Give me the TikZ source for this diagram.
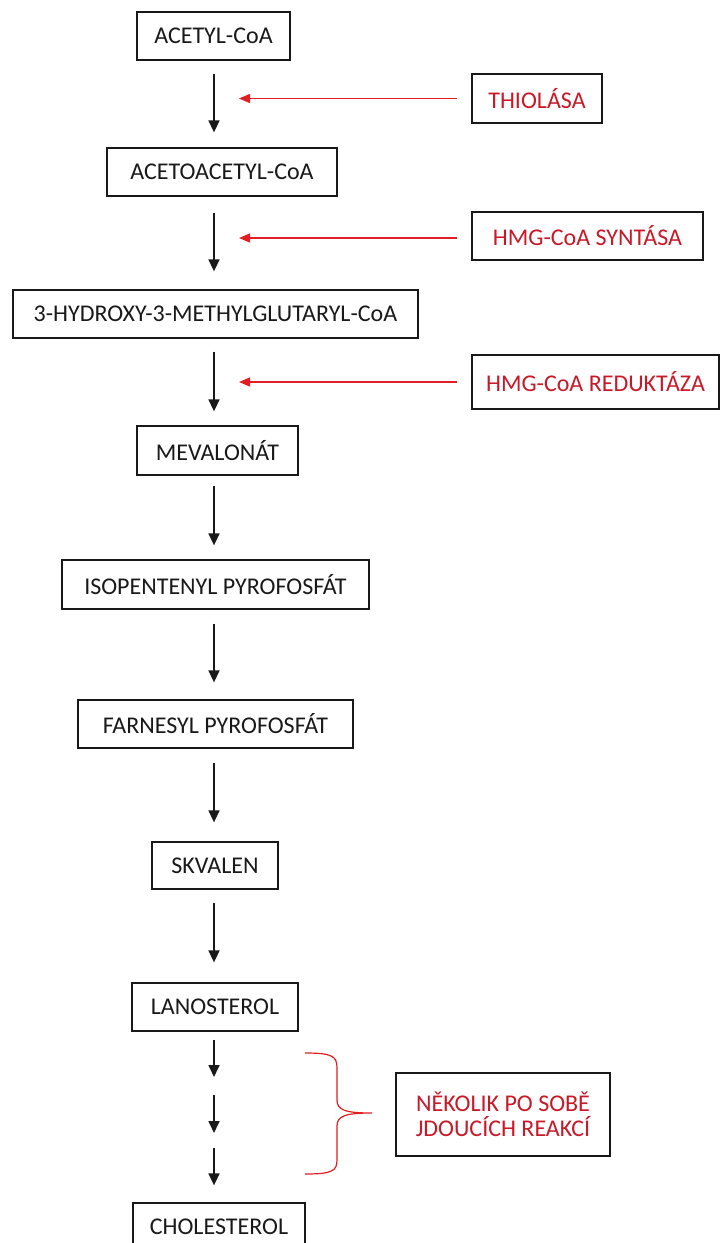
\documentclass[tikz,border=0pt]{standalone}
\usepackage{fontspec}
\setmainfont{Carlito}
\usetikzlibrary{arrows.meta}
\definecolor{enzred}{RGB}{200,25,40}
\definecolor{linered}{RGB}{225,30,35}
\definecolor{ink}{RGB}{25,25,25}
\begin{document}
\begin{tikzpicture}[x=1pt,y=-1pt,
  box/.style={draw=ink, line width=1.3pt, inner sep=0pt, text=ink, font=\fontsize{24}{29}\selectfont},
  enz/.style={box, text=enzred},
  arr/.style={draw=ink, line width=1.6pt, -{Triangle[width=11pt,length=12pt]}},
  redarr/.style={draw=linered, line width=1.3pt, shorten <=14pt, -{Triangle[width=9pt,length=11pt]}},
  bracestyle/.style={draw=linered, line width=1.2pt}
]
\useasboundingbox (0,0) rectangle (720,1243);
\fill[white] (0,0) rectangle (720,1243);

\coordinate (col) at (214,0);
\coordinate (rcol) at (239,0);

% main chain
\node[box, minimum width=153pt, minimum height=48pt] (acetyl) at (213.5,36) {ACETYL-CoA};
\node[box, minimum width=230pt, minimum height=48pt] (acac) at (222,172) {ACETOACETYL-CoA};
\node[box, minimum width=405pt, minimum height=48pt] (hmg) at (215.5,314) {3-HYDROXY-3-METHYLGLUTARYL-CoA};
\node[box, minimum width=161pt, minimum height=49pt] (mev) at (217.5,450.5) {MEVALONÁT};
\node[box, minimum width=307pt, minimum height=49pt] (iso) at (215.5,584.5) {ISOPENTENYL PYROFOSFÁT};
\node[box, minimum width=275pt, minimum height=48pt] (farn) at (215.5,724) {FARNESYL PYROFOSFÁT};
\node[box, minimum width=126pt, minimum height=47pt] (skv) at (215,865.5) {SKVALEN};
\node[box, minimum width=166pt, minimum height=48pt] (lan) at (215,1007) {LANOSTEROL};
\node[box, minimum width=172pt, minimum height=48pt] (chol) at (219,1227) {CHOLESTEROL};

% enzymes
\node[enz, minimum width=130pt, minimum height=49pt] (thio) at (537,98.5) {THIOLÁSA};
\node[enz, minimum width=231pt, minimum height=48pt] (synt) at (587.5,236) {HMG-CoA SYNTÁSA};
\node[enz, minimum width=247pt, minimum height=54pt] (redu) at (595.5,382) {HMG-CoA REDUKTÁZA};
\node[enz, minimum width=214pt, minimum height=83pt, align=center,
      font=\fontsize{24}{25}\selectfont] (nek) at (503,1114.5) {NĚKOLIK PO SOBĚ\\JDOUCÍCH REAKCÍ};

% main arrows
\draw[arr, shorten <=13pt, shorten >=15pt] (acetyl.south -| col) -- (acac.north -| col);
\draw[arr, shorten <=16pt, shorten >=18pt] (acac.south -| col) -- (hmg.north -| col);
\draw[arr, shorten <=13pt, shorten >=14pt] (hmg.south -| col) -- (mev.north -| col);
\draw[arr, shorten <=10pt, shorten >=14pt] (mev.south -| col) -- (iso.north -| col);
\draw[arr, shorten <=14pt, shorten >=17pt] (iso.south -| col) -- (farn.north -| col);
\draw[arr, shorten <=14pt, shorten >=19pt] (farn.south -| col) -- (skv.north -| col);
\draw[arr, shorten <=13pt, shorten >=20pt] (skv.south -| col) -- (lan.north -| col);

% several steps lanosterol -> cholesterol
\coordinate (k1b) at (214,1077);
\coordinate (k2a) at (214,1095);
\coordinate (k2b) at (214,1133);
\coordinate (k3a) at (214,1148);
\draw[arr, shorten <=8pt] (lan.south -| col) -- (k1b);
\draw[arr] (k2a) -- (k2b);
\draw[arr, shorten >=17pt] (k3a) -- (chol.north -| col);

% enzyme arrows
\draw[redarr] (thio.west) -- (thio.west -| rcol);
\draw[redarr] (synt.west) ++(0,2) coordinate (synta) -- (synta -| rcol);
\draw[redarr] (redu.west) -- (redu.west -| rcol);

% brace
\draw[bracestyle] (305,1053) .. controls (332,1053) and (337,1056) .. (337,1068)
  -- (337,1100) .. controls (337,1110) and (345,1113) .. (372,1113)
  .. controls (345,1113) and (337,1116) .. (337,1126)
  -- (337,1160) .. controls (337,1171) and (332,1174) .. (305,1174);
\end{tikzpicture}
\end{document}
